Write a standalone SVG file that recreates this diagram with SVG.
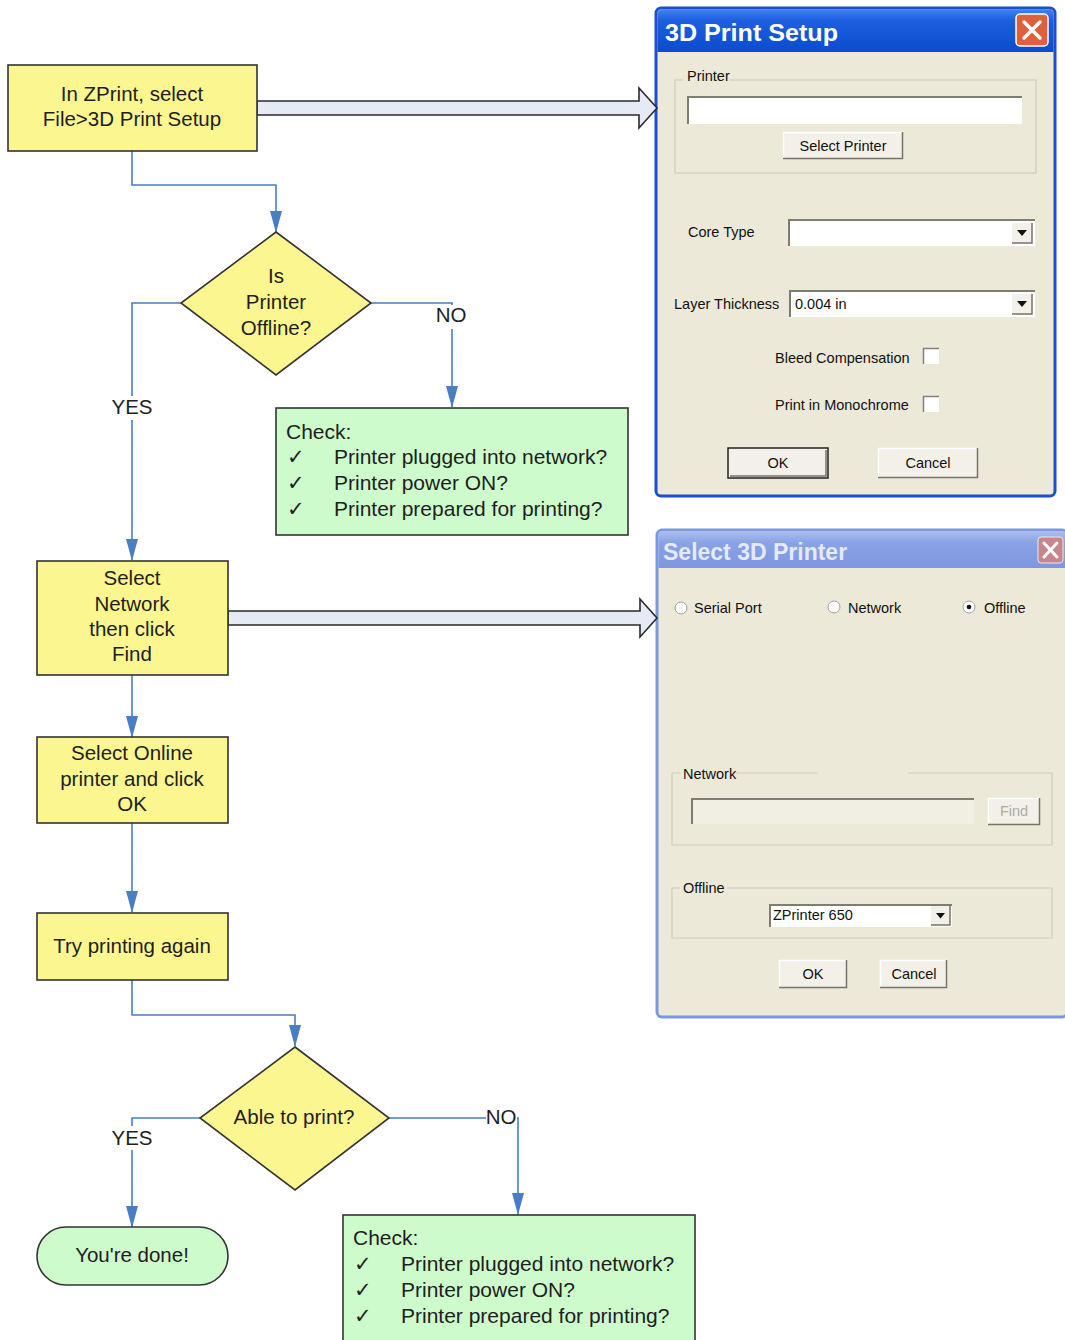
<svg xmlns="http://www.w3.org/2000/svg" width="1065" height="1340" viewBox="0 0 1065 1340">
<defs>
<style>
.t{font-family:"Liberation Sans",Arial,sans-serif;font-size:20.5px;fill:#1e1e1e}
.k{font-size:21px}
.c{text-anchor:middle}
.yel{fill:#fbf68f;stroke:#333;stroke-width:1.6}
.grn{fill:#cdfbcc;stroke:#333;stroke-width:1.6}
.con{fill:none;stroke:#4a7ec4;stroke-width:1.6;marker-end:url(#ah)}
.blk{fill:#e6eaf6;stroke:#2a2a2a;stroke-width:1.6}
.lbg{fill:#ffffff}
.d{font-family:"Liberation Sans",Arial,sans-serif;font-size:14.5px;fill:#111}
.body{fill:#ece9d8}
.grp{fill:none;stroke:#cfcdbd;stroke-width:1.2}
.face{fill:#f2f0e8}
.hi{fill:none;stroke:#ffffff;stroke-width:1.5}
.sh{fill:none;stroke:#75736a;stroke-width:1.5}
.field{fill:#ffffff}
.inset{fill:none;stroke:#7f7d72;stroke-width:2}
.title{font-family:"Liberation Sans",Arial,sans-serif;font-weight:bold;font-size:23px}
</style>
<marker id="ah" markerUnits="userSpaceOnUse" markerWidth="22" markerHeight="12" refX="21" refY="6" orient="auto">
<path d="M0,0 L22,6 L0,12 z" fill="#4a7ec4"/>
</marker>
<linearGradient id="tb1" x1="0" y1="0" x2="0" y2="1">
<stop offset="0" stop-color="#3f82f5"/>
<stop offset="0.25" stop-color="#1d5fe0"/>
<stop offset="1" stop-color="#0b4ccc"/>
</linearGradient>
<linearGradient id="tb2" x1="0" y1="0" x2="0" y2="1">
<stop offset="0" stop-color="#a9bdf0"/>
<stop offset="0.3" stop-color="#8aa3e6"/>
<stop offset="1" stop-color="#7d96de"/>
</linearGradient>
</defs>
<rect x="0" y="0" width="1065" height="1340" fill="#ffffff"/>

<!-- Dialog 1 -->
<g id="dialog-setup">
<rect x="656" y="8" width="399" height="488" rx="5" fill="#ece9d8" stroke="#1a4fd0" stroke-width="3"/>
<path d="M657.5,52 V14 Q657.5,9.5 662,9.5 H1049 Q1053.5,9.5 1053.5,14 V52 Z" fill="url(#tb1)"/>
<text x="665" y="41" class="title" fill="#ffffff" textLength="173" lengthAdjust="spacingAndGlyphs">3D Print Setup</text>
<rect x="1016" y="14" width="32" height="32" rx="4" fill="#e0603c" stroke="#ffffff" stroke-width="1.5"/>
<path d="M1024,22 L1040,38 M1040,22 L1024,38" stroke="#ffffff" stroke-width="3.5" stroke-linecap="round"/>
<rect x="675" y="80" width="361" height="93" class="grp"/>
<rect x="683" y="72" width="46" height="14" class="body"/>
<text x="687" y="81" class="d">Printer</text>
<rect x="688" y="96" width="334" height="28" class="field"/>
<path d="M688,124 V97 H1022" class="inset"/>
<rect x="783" y="132" width="120" height="27" class="face"/>
<path d="M783.5,159 V132.5 H903" class="hi"/><path d="M783,158.5 H902.5 V132" class="sh"/>
<text x="843" y="151" class="d c">Select Printer</text>
<text x="688" y="237" class="d" font-size="15.5">Core Type</text>
<rect x="789" y="219" width="246" height="27" class="field"/>
<path d="M789,246 V220 H1035" class="inset"/>
<rect x="1012" y="223" width="20" height="20" class="face"/>
<path d="M1012,243 H1032 V223" class="sh"/>
<path d="M1017,230 H1027 L1022,236 Z" fill="#111"/>
<text x="674" y="309" class="d">Layer Thickness</text>
<rect x="790" y="290" width="245" height="27" class="field"/>
<path d="M790,317 V291 H1035" class="inset"/>
<text x="795" y="309" class="d">0.004 in</text>
<rect x="1012" y="294" width="20" height="20" class="face"/>
<path d="M1012,314 H1032 V294" class="sh"/>
<path d="M1017,301 H1027 L1022,307 Z" fill="#111"/>
<text x="775" y="363" class="d">Bleed Compensation</text>
<rect x="923" y="348" width="16" height="16" fill="#ffffff"/>
<path d="M923.5,364 V348.5 H939" fill="none" stroke="#808080" stroke-width="1.5"/>
<text x="775" y="410" class="d">Print in Monochrome</text>
<rect x="923" y="396" width="16" height="16" fill="#ffffff"/>
<path d="M923.5,412 V396.5 H939" fill="none" stroke="#808080" stroke-width="1.5"/>
<rect x="728" y="448" width="100" height="30" class="face" stroke="#222" stroke-width="1.5"/>
<path d="M730,476 H826 V450" class="sh"/>
<text x="778" y="468" class="d c">OK</text>
<rect x="878" y="448" width="100" height="30" class="face"/>
<path d="M878.5,478 V448.5 H978" class="hi"/><path d="M878,477.5 H977.5 V448" class="sh"/>
<text x="928" y="468" class="d c">Cancel</text>
</g>

<!-- Dialog 2 -->
<g id="dialog-select">
<rect x="657" y="530" width="410" height="487" rx="5" fill="#ece9d8" stroke="#7b97e0" stroke-width="3"/>
<path d="M658.5,568 V536 Q658.5,531.5 663,531.5 H1067 V568 Z" fill="url(#tb2)"/>
<text x="663" y="560" class="title" fill="#e4eaf8">Select 3D Printer</text>
<rect x="1038" y="537" width="25" height="26" rx="3" fill="#c9868a" stroke="#e8e8f4" stroke-width="1"/>
<path d="M1044,543 L1057,557 M1057,543 L1044,557" stroke="#ffffff" stroke-width="3" stroke-linecap="round"/>
<circle cx="681" cy="608" r="6" fill="#ffffff" stroke="#a0a0a0" stroke-width="1"/>
<text x="694" y="613" class="d">Serial Port</text>
<circle cx="834" cy="607" r="6" fill="#ffffff" stroke="#a0a0a0" stroke-width="1"/>
<text x="848" y="613" class="d">Network</text>
<circle cx="969" cy="607" r="6" fill="#ffffff" stroke="#a0a0a0" stroke-width="1"/>
<circle cx="969" cy="607" r="2.3" fill="#111"/>
<text x="984" y="613" class="d">Offline</text>
<path d="M672,773 H680 M733,773 H818 M908,773 H1052 V845 H672 V773" class="grp"/>
<text x="683" y="779" class="d">Network</text>
<rect x="692" y="798" width="282" height="26" fill="#f1efe4"/>
<path d="M692,824 V799 H974" class="inset"/>
<rect x="988" y="798" width="52" height="27" class="face"/>
<path d="M988.5,825 V798.5 H1040" class="hi"/><path d="M988,824.5 H1039.5 V798" class="sh"/>
<text x="1014" y="816" class="d c" style="fill:#b0ada0">Find</text>
<path d="M672,888 H680 M727,888 H1052 V938 H672 V888" class="grp"/>
<text x="683" y="893" class="d">Offline</text>
<rect x="770" y="904" width="182" height="23" class="field"/>
<path d="M770,927 V905 H952" class="inset"/>
<text x="773" y="920" class="d" font-size="13.5">ZPrinter 650</text>
<rect x="931" y="906" width="19" height="19" class="face"/>
<path d="M931,925 H950 V906" class="sh"/>
<path d="M936,913 H945 L940.5,918.5 Z" fill="#111"/>
<rect x="779" y="960" width="68" height="28" class="face"/>
<path d="M779.5,988 V960.5 H847" class="hi"/><path d="M779,987.5 H846.5 V960" class="sh"/>
<text x="813" y="979" class="d c">OK</text>
<rect x="880" y="960" width="67" height="28" class="face"/>
<path d="M880.5,988 V960.5 H947" class="hi"/><path d="M880,987.5 H946.5 V960" class="sh"/>
<text x="914" y="979" class="d c">Cancel</text>
</g>

<!-- Connectors -->
<g id="connectors">
<polygon points="257,101 639,101 639,88 657,108 639,128 639,115 257,115" class="blk"/>
<polygon points="228,611 640,611 640,599 657,618 640,637 640,625 228,625" class="blk"/>
<path d="M132,151 V185 H276 V232" class="con"/>
<path d="M181,303 H132 V560" class="con"/>
<path d="M371,303 H452 V407" class="con"/>
<path d="M132,675 V737" class="con"/>
<path d="M132,823 V912" class="con"/>
<path d="M132,980 V1015 H295 V1046" class="con"/>
<path d="M200,1118 H132 V1227" class="con"/>
<path d="M389,1118 H518 V1214" class="con"/>
<rect x="108" y="396" width="48" height="24" class="lbg"/>
<text x="132" y="414" class="t c">YES</text>
<rect x="434" y="305" width="36" height="24" class="lbg"/>
<text x="451" y="322" class="t c">NO</text>
<rect x="108" y="1126" width="48" height="24" class="lbg"/>
<text x="132" y="1145" class="t c">YES</text>
<rect x="486" y="1106" width="31" height="22" class="lbg"/>
<text x="501" y="1124" class="t c">NO</text>
</g>

<!-- Flowchart nodes -->
<g id="box-zprint">
<rect x="8" y="65" width="249" height="86" class="yel"/>
<text x="132" y="101" class="t c">In ZPrint, select</text>
<text x="132" y="126" class="t c">File&gt;3D Print Setup</text>
</g>
<g id="dec-offline">
<polygon points="276,232 371,303 276,375 181,303" class="yel"/>
<text x="276" y="283" class="t c">Is</text>
<text x="276" y="309" class="t c">Printer</text>
<text x="276" y="335" class="t c">Offline?</text>
</g>
<g id="check-1">
<rect x="276" y="408" width="352" height="127" class="grn"/>
<text x="286" y="439" class="t k">Check:</text>
<text x="287" y="464" class="t" font-family="DejaVu Sans">✓</text>
<text x="334" y="464" class="t k">Printer plugged into network?</text>
<text x="287" y="490" class="t" font-family="DejaVu Sans">✓</text>
<text x="334" y="490" class="t k">Printer power ON?</text>
<text x="287" y="516" class="t" font-family="DejaVu Sans">✓</text>
<text x="334" y="516" class="t k">Printer prepared for printing?</text>
</g>
<g id="box-network">
<rect x="37" y="561" width="191" height="114" class="yel"/>
<text x="132" y="585" class="t c">Select</text>
<text x="132" y="611" class="t c">Network</text>
<text x="132" y="636" class="t c">then click</text>
<text x="132" y="661" class="t c">Find</text>
</g>
<g id="box-online">
<rect x="37" y="737" width="191" height="86" class="yel"/>
<text x="132" y="760" class="t c">Select Online</text>
<text x="132" y="786" class="t c">printer and click</text>
<text x="132" y="811" class="t c">OK</text>
</g>
<g id="box-retry">
<rect x="37" y="913" width="191" height="67" class="yel"/>
<text x="132" y="953" class="t c">Try printing again</text>
</g>
<g id="dec-print">
<polygon points="295,1047 389,1118 295,1190 200,1118" class="yel"/>
<text x="294" y="1124" class="t c">Able to print?</text>
</g>
<g id="term-done">
<rect x="37" y="1227" width="191" height="58" rx="29" class="grn"/>
<text x="132" y="1262" class="t c">You're done!</text>
</g>
<g id="check-2">
<rect x="343" y="1215" width="352" height="135" class="grn"/>
<text x="353" y="1245" class="t k">Check:</text>
<text x="354" y="1271" class="t" font-family="DejaVu Sans">✓</text>
<text x="401" y="1271" class="t k">Printer plugged into network?</text>
<text x="354" y="1297" class="t" font-family="DejaVu Sans">✓</text>
<text x="401" y="1297" class="t k">Printer power ON?</text>
<text x="354" y="1323" class="t" font-family="DejaVu Sans">✓</text>
<text x="401" y="1323" class="t k">Printer prepared for printing?</text>
</g>
</svg>
